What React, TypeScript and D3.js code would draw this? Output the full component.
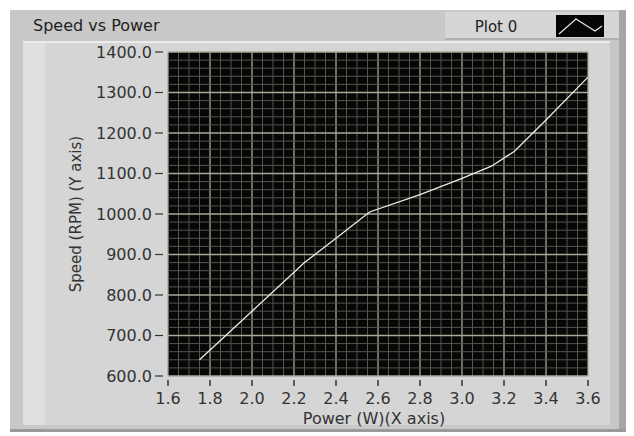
import * as d3 from "d3";

const powerW = [1.75, 2.0, 2.25, 2.4, 2.56, 2.8, 3.0, 3.14, 3.25, 3.4, 3.6];
const speedRpm = [640, 760, 880, 940, 1005, 1048, 1088, 1118, 1155, 1232, 1338];
const xTicks = [1.6, 1.8, 2.0, 2.2, 2.4, 2.6, 2.8, 3.0, 3.2, 3.4, 3.6];
const yTicks = [600, 700, 800, 900, 1000, 1100, 1200, 1300, 1400];

const W = 634;
const H = 436;
const plot = { left: 168, right: 588, top: 52, bottom: 376 };
const FONT = "'DejaVu Sans', sans-serif";

export default function App() {
  const x = d3.scaleLinear().domain([1.6, 3.6]).range([plot.left, plot.right]);
  const y = d3.scaleLinear().domain([600, 1400]).range([plot.bottom, plot.top]);

  // minor grid: 4 steps per 0.2 on x, 5 steps per 100 on y
  const xMinor = d3.range(0, 41).map((i) => 1.6 + i * 0.05);
  const yMinor = d3.range(0, 41).map((i) => 600 + i * 20);

  const data = powerW.map((p, i) => ({ p, s: speedRpm[i] }));
  const line = d3
    .line<{ p: number; s: number }>()
    .x((d) => x(d.p))
    .y((d) => y(d.s));

  return (
    <svg
      width={W}
      height={H}
      style={{ position: "absolute", left: 0, top: 0, background: "#fff" }}
      fontFamily={FONT}
    >
      {/* outer panel */}
      <rect x={10} y={10} width={616} height={422} fill="#c8c8c8" />
      <rect x={619} y={10} width={7} height={422} fill="#a6a6a6" />
      <rect x={10} y={429} width={616} height={3} fill="#9a9a9a" />
      <text x={33} y={31} fontSize={16} fill="#222">
        Speed vs Power
      </text>

      {/* legend */}
      <rect x={445} y={12} width={174} height={27} fill="#d6d6d6" />
      <rect x={445} y={38} width={174} height={2} fill="#b0b0b0" />
      <text x={496} y={32} fontSize={15} fill="#222" textAnchor="middle">
        Plot 0
      </text>
      <rect x={556} y={15} width={48} height={22} fill="#050505" />
      <polyline
        points="559,34 576,19 595,31 602,26"
        fill="none"
        stroke="#e6e6e6"
        strokeWidth={1.2}
      />

      {/* inner frame */}
      <rect x={23} y={41} width={594} height={384} fill="#d5d5d5" />
      <rect x={23} y={41} width={594} height={2} fill="#ececec" />
      <rect x={23} y={43} width={22} height={382} fill="#e0e0e0" />
      <rect x={610} y={41} width={9} height={384} fill="#c6c6c6" />

      {/* plot area */}
      <rect
        x={plot.left}
        y={plot.top}
        width={plot.right - plot.left}
        height={plot.bottom - plot.top}
        fill="#070707"
      />
      <g>
        {xMinor.map((v, i) => (
          <line
            key={"xm" + i}
            x1={x(v)}
            x2={x(v)}
            y1={plot.top}
            y2={plot.bottom}
            stroke={i % 4 === 0 ? "#a8a898" : "#55554c"}
            strokeWidth={i % 4 === 0 ? 1.3 : 1}
          />
        ))}
        {yMinor.map((v, i) => (
          <line
            key={"ym" + i}
            x1={plot.left}
            x2={plot.right}
            y1={y(v)}
            y2={y(v)}
            stroke={i % 5 === 0 ? "#a8a898" : "#55554c"}
            strokeWidth={i % 5 === 0 ? 1.3 : 1}
          />
        ))}
      </g>
      <path d={line(data) ?? ""} fill="none" stroke="#ecece4" strokeWidth={1.3} />

      {/* y axis */}
      {yTicks.map((t) => (
        <g key={"yt" + t}>
          <line x1={plot.left - 13} x2={plot.left - 5} y1={y(t)} y2={y(t)} stroke="#333" strokeWidth={1.2} />
          <text
            x={plot.left - 16}
            y={y(t)}
            dy="0.36em"
            fontSize={16}
            fill="#333"
            textAnchor="end"
          >
            {t.toFixed(1)}
          </text>
        </g>
      ))}

      {/* x axis */}
      {xTicks.map((t) => (
        <g key={"xt" + t}>
          <line x1={x(t)} x2={x(t)} y1={plot.bottom + 4} y2={plot.bottom + 10} stroke="#333" strokeWidth={1.5} />
          <text x={x(t)} y={plot.bottom + 28} fontSize={16} fill="#333" textAnchor="middle">
            {t.toFixed(1)}
          </text>
        </g>
      ))}

      <text
        x={374}
        y={plot.bottom + 48}
        fontSize={16}
        fill="#333"
        textAnchor="middle"
      >
        Power (W)(X axis)
      </text>
      <text
        transform={`translate(81, ${(plot.top + plot.bottom) / 2}) rotate(-90)`}
        fontSize={15}
        fill="#333"
        textAnchor="middle"
      >
        Speed (RPM) (Y axis)
      </text>
    </svg>
  );
}
